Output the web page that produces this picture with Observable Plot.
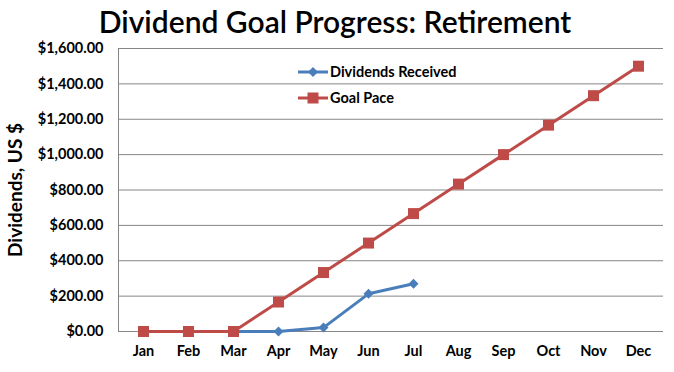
<!DOCTYPE html>
<html><head><meta charset="utf-8">
<script src="https://cdn.jsdelivr.net/npm/d3@7"></script>
<script src="https://cdn.jsdelivr.net/npm/@observablehq/plot@0.6"></script>
<style>
html,body{margin:0;padding:0;background:#fff;}
#wrap{position:relative;width:674px;height:372px;font-family:Lato,sans-serif;}
#wrap svg{display:block}
#over{position:absolute;left:0;top:0;pointer-events:none}
</style></head><body><div id="wrap"></div>
<script>
const months = ["Jan","Feb","Mar","Apr","May","Jun","Jul","Aug","Sep","Oct","Nov","Dec"];
const goalPace = [0,0,0,166.67,333.33,500,666.67,833.33,1000,1166.67,1333.33,1500];
const dividendMonths = ["Mar","Apr","May","Jun","Jul"];
const dividendsReceived = [0,0,22,213,270];
const yTicks = [0,200,400,600,800,1000,1200,1400,1600];
const seriesNames = ["Dividends Received","Goal Pace"];
const seriesColors = ["#4A7EBB","#BE4B48"];
const titleText = "Dividend Goal Progress: Retirement";
const yLabel = "Dividends, US $";

const goal = months.map((m,i)=>({month:m, value:goalPace[i]}));
const divs = dividendMonths.map((m,i)=>({month:m, value:dividendsReceived[i]}));
const fmt = d => "$" + d3.format(",.2f")(d);

const chart = Plot.plot({
  width:674, height:372,
  marginLeft:118, marginRight:11, marginTop:48, marginBottom:41,
  style:{fontFamily:"Lato, sans-serif", fontSize:"14px", fontWeight:"bold", color:"#000", background:"#fff", overflow:"visible"},
  x:{type:"point", domain:months, padding:0.5, label:null},
  y:{domain:[0,1600], label:null},
  marks:[
    Plot.gridY(yTicks,{stroke:"#868686", strokeOpacity:1, strokeWidth:1}),
    Plot.frame({anchor:"left", stroke:"#868686", strokeOpacity:1}),
    Plot.axisY(yTicks,{tickFormat:fmt, tickSize:0, tickPadding:15, label:null, fontWeight:"bold", fontSize:14.5}),
    Plot.axisX({tickSize:0, tickPadding:14, label:null, fontWeight:"bold", fontSize:14.5}),
    Plot.line(divs,{x:"month", y:"value", stroke:seriesColors[0], strokeWidth:3}),
    Plot.dot(divs,{x:"month", y:"value", symbol:"diamond2", r:4.5, fill:seriesColors[0], stroke:"none"}),
    Plot.line(goal,{x:"month", y:"value", stroke:seriesColors[1], strokeWidth:3}),
    Plot.dot(goal,{x:"month", y:"value", symbol:"square", r:6.2, fill:seriesColors[1], stroke:"none"})
  ]
});
const wrap = document.getElementById("wrap");
wrap.appendChild(chart);

const over = d3.select(wrap).append("svg").attr("id","over").attr("width",674).attr("height",372)
  .attr("font-family","Lato, sans-serif");
over.append("text").attr("x",335).attr("y",33).attr("text-anchor","middle")
  .attr("font-size",30).attr("font-weight",600).text(titleText);
over.append("text").attr("transform","translate(22,190) rotate(-90)").attr("text-anchor","middle")
  .attr("font-size",19).attr("font-weight","bold").text(yLabel);
const legY = [72,98];
seriesNames.forEach((n,i)=>{
  const g = over.append("g");
  g.append("line").attr("x1",298).attr("x2",328).attr("y1",legY[i]).attr("y2",legY[i])
    .attr("stroke",seriesColors[i]).attr("stroke-width",3);
  if(i===0){
    g.append("path").attr("d",`M313,${legY[i]-5}L318,${legY[i]}L313,${legY[i]+5}L308,${legY[i]}Z`).attr("fill",seriesColors[i]);
  } else {
    g.append("rect").attr("x",307.5).attr("y",legY[i]-5.5).attr("width",11).attr("height",11).attr("fill",seriesColors[i]);
  }
  g.append("text").attr("x",330).attr("y",legY[i]+5).attr("font-size",14.5).attr("font-weight","bold").text(n);
});
</script></body></html>
